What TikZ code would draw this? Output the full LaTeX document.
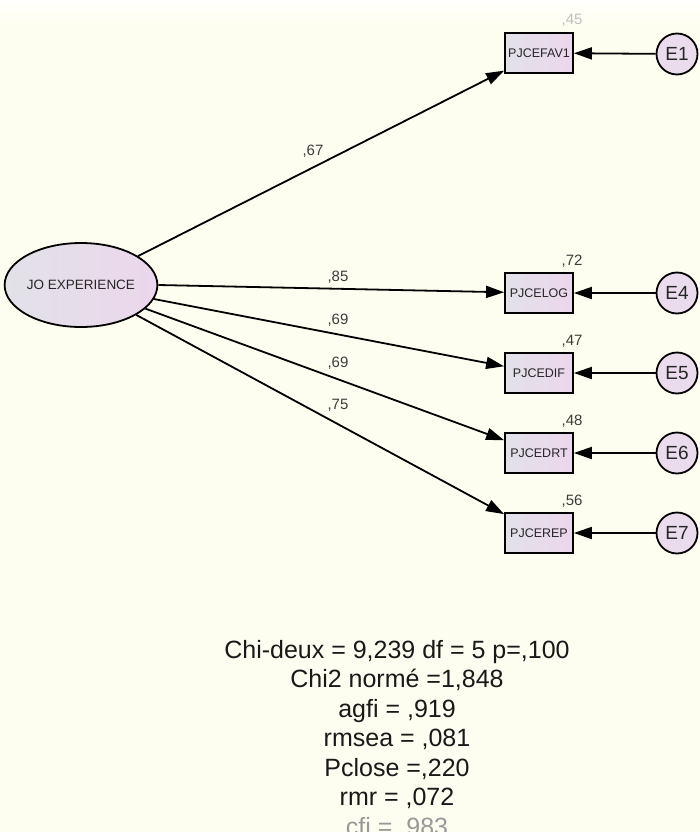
\documentclass[tikz,border=0pt]{standalone}
\usepackage{fontspec}
\setmainfont{Liberation Sans}
\usetikzlibrary{arrows.meta,shapes.geometric}
\definecolor{cream}{RGB}{254,254,240}
\definecolor{boxleft}{RGB}{226,226,232}
\definecolor{boxright}{RGB}{236,214,236}
\definecolor{errfill}{RGB}{234,220,236}
\definecolor{labgray}{RGB}{60,60,60}
\tikzset{
  obsbox/.style={draw=black, line width=1.8pt, minimum width=68pt, minimum height=40pt, inner sep=0pt,
    left color=boxleft, right color=boxright, font=\fontsize{12.5}{13}\selectfont, text=black!85},
  latent/.style={ellipse, draw=black, line width=1.8pt, minimum width=135pt, minimum height=84pt, inner sep=0pt,
    left color=boxleft, right color=boxright, font=\fontsize{13.5}{14}\selectfont, text=black!85},
  errc/.style={circle, draw=black, line width=1.8pt, minimum size=41pt, inner sep=0pt, fill=errfill,
    font=\fontsize{19}{20}\selectfont, text=black!85},
  path/.style={line width=1.8pt, -{Triangle[length=18pt,width=12pt]}},
  coef/.style={font=\fontsize{15}{16}\selectfont, text=labgray},
  r2/.style={font=\fontsize{15}{16}\selectfont, text=labgray},
  fit/.style={font=\fontsize{25}{29.5}\selectfont, text=black!90, anchor=base},
}
\begin{document}
\begin{tikzpicture}[x=1pt, y=-1pt]
\useasboundingbox (0,0) rectangle (700,832);
\fill[cream] (0,0) rectangle (700,832);
\shade[top color=white, bottom color=cream] (0,0) rectangle (700,22);
% latent
\node[latent] (jo) at (81,285) {JO EXPERIENCE};
% observed
\node[obsbox] (fav) at (539,53) {PJCEFAV1};
\node[obsbox] (log) at (539,293) {PJCELOG};
\node[obsbox] (dif) at (539,373) {PJCEDIF};
\node[obsbox] (drt) at (539,453) {PJCEDRT};
\node[obsbox] (rep) at (539,533) {PJCEREP};
% errors
\node[errc] (e1) at (677,54) {E1};
\node[errc] (e4) at (677,293) {E4};
\node[errc] (e5) at (677,373) {E5};
\node[errc] (e6) at (677,453) {E6};
\node[errc] (e7) at (677,533) {E7};
% paths
\draw[path] (jo) -- (fav);
\draw[path] (jo.east) -- (log);
\draw[path] (jo) -- (dif);
\draw[path] (jo) -- (drt);
\draw[path] (jo) -- (rep);
\draw[path] (e1) -- (fav);
\draw[path] (e4) -- (log);
\draw[path] (e5) -- (dif);
\draw[path] (e6) -- (drt);
\draw[path] (e7) -- (rep);
% coefficients
\node[coef] (c1) at (313,151) {,67};
\node[coef] (c4) at (338,277) {,85};
\node[coef] (c5) at (338,320) {,69};
\node[coef] (c6) at (338,363) {,69};
\node[coef] (c7) at (338,405) {,75};
% squared multiple correlations
\node[r2, text=black!25] (r1) at (572,20) {,45};
\node[r2] (r4) at (572,261) {,72};
\node[r2] (r5) at (572,341) {,47};
\node[r2] (r6) at (572,421) {,48};
\node[r2] (r7) at (572,501) {,56};
% fit indices
\node[fit] (f1) at (397,658) {Chi-deux = 9,239 df = 5 p=,100};
\node[fit] (f2) at (397,687.5) {Chi2 normé =1,848};
\node[fit] (f3) at (397,717) {agfi = ,919};
\node[fit] (f4) at (397,746.5) {rmsea = ,081};
\node[fit] (f5) at (397,776) {Pclose =,220};
\node[fit] (f6) at (397,805.5) {rmr = ,072};
\node[fit, text=black!40] (f7) at (397,835) {cfi = ,983};
\end{tikzpicture}
\end{document}
